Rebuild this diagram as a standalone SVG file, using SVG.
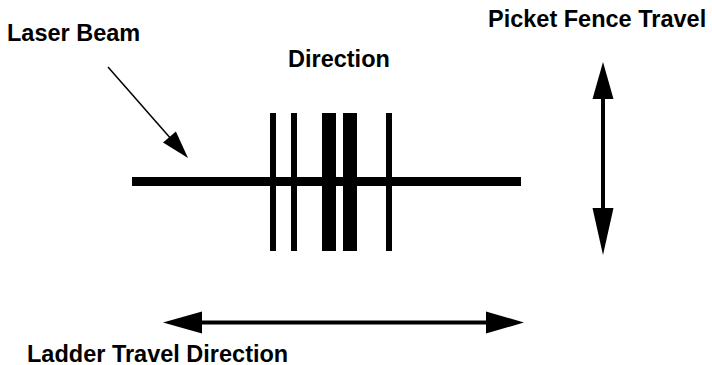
<svg xmlns="http://www.w3.org/2000/svg" width="712" height="365" viewBox="0 0 712 365">
  <style>
    .lbl { font-family: "Liberation Sans", Arial, Helvetica, sans-serif; font-weight: bold; font-size: 23.5px; fill: #000; }
    .thin { stroke: #000; stroke-width: 1.5; fill: none; }
    .thick { stroke: #000; stroke-width: 4; fill: none; }
    .head { fill: #000; stroke: none; }
    .bar { fill: #000; }
  </style>
  <rect width="712" height="365" fill="#fff"/>
  <g id="laser-beam-label">
    <text class="lbl" x="7" y="40.5">Laser Beam</text>
  </g>
  <g id="direction-label">
    <text class="lbl" x="288" y="66.5">Direction</text>
  </g>
  <g id="picket-fence-label">
    <text class="lbl" x="488" y="27">Picket Fence Travel</text>
  </g>
  <g id="ladder-label">
    <text class="lbl" x="27" y="361.5">Ladder Travel Direction</text>
  </g>
  <g id="beam">
    <rect class="bar" x="132" y="177" width="389" height="9"/>
  </g>
  <g id="picket-fence">
    <rect class="bar" x="270" y="113" width="6" height="138"/>
    <rect class="bar" x="291" y="113" width="6" height="138"/>
    <rect class="bar" x="322" y="113" width="14" height="138"/>
    <rect class="bar" x="343" y="113" width="14" height="138"/>
    <rect class="bar" x="386" y="113" width="6" height="138"/>
  </g>
  <g id="connectors">
    <line class="thin" x1="108" y1="67" x2="172" y2="140"/>
    <polygon class="head" points="188,158 163,142.6 175.9,131.4"/>
    <line class="thick" x1="603" y1="95" x2="603" y2="212"/>
    <polygon class="head" points="603,62 613.5,99 592.5,99"/>
    <polygon class="head" points="603,255 613.5,208 592.5,208"/>
    <line class="thick" x1="198" y1="322.5" x2="490" y2="322.5"/>
    <polygon class="head" points="163,322.5 202,311.5 202,333.5"/>
    <polygon class="head" points="524,322.5 486,311.5 486,333.5"/>
  </g>
</svg>
